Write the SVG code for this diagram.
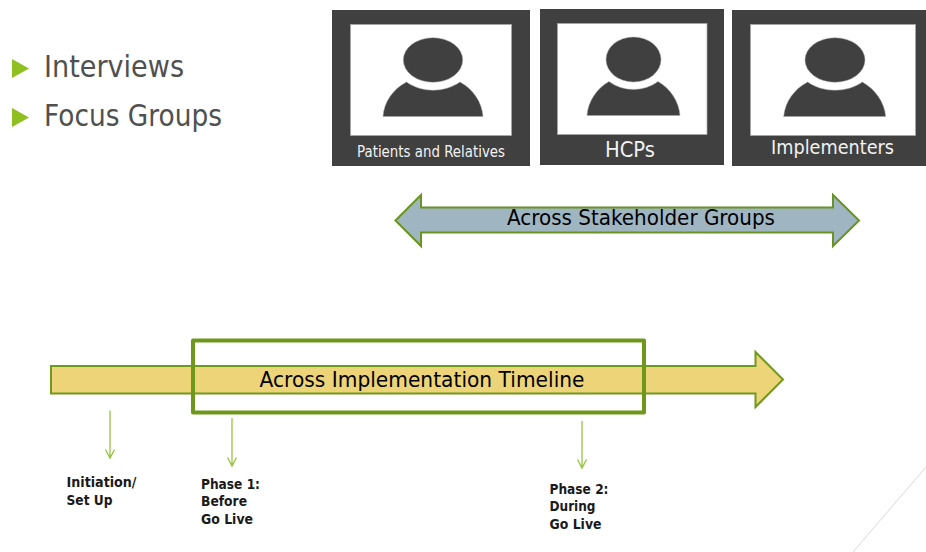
<svg xmlns="http://www.w3.org/2000/svg" width="926" height="552" viewBox="0 0 926 552">
<style>
text{font-family:"DejaVu Sans","Noto Sans",sans-serif}
.card{fill:#404040}
.photo{fill:#fff;stroke:#a6a6a6;stroke-width:.75}
.sil{fill:#404040;stroke:#a6a6a6;stroke-width:.5}
.cap{fill:#f2f2f2}
.bul{fill:#8fbf21}
.list{fill:#505050;font-size:30px}
.lab{fill:#000;font-size:22px}
.ph{fill:#1a1a1a;font-size:14.500px;font-weight:700}
.tick{fill:none;stroke:#98c440;stroke-width:1.3}
</style>
<rect width="926" height="552" fill="#fff"/>
<g id="decor"><path d="M926 467L853 552" fill="none" stroke="#d9d9d9" stroke-width="1"/></g>
<g id="bullets">
<path class="bul" d="M12 59L29 68.500L12 78Z"/>
<path class="bul" d="M12 108L29 117.500L12 127Z"/>
<text class="list" x="44" y="77" textLength="140" lengthAdjust="spacingAndGlyphs">Interviews</text>
<text class="list" x="44" y="126" textLength="178" lengthAdjust="spacingAndGlyphs">Focus Groups</text>
</g>
<g id="card-patients">
<rect class="card" x="332" y="10" width="198" height="156"/>
<rect class="photo" x="350.500" y="24.500" width="161" height="111"/>
<ellipse class="sil" cx="433" cy="60" rx="29.700" ry="22.300"/>
<path class="sil" d="M383 116.500C384 102 393 89 406.500 82C422 93 444 93 460 82C473 89 482 102 483 116.500Z"/>
<text class="cap" x="431" y="157" font-size="15" text-anchor="middle" textLength="148" lengthAdjust="spacingAndGlyphs">Patients and Relatives</text>
</g>
<g id="card-hcps">
<rect class="card" x="540" y="9" width="184" height="156"/>
<rect class="photo" x="557.500" y="23.500" width="149.500" height="111"/>
<ellipse class="sil" cx="633.500" cy="59.500" rx="27.500" ry="22.500"/>
<path class="sil" d="M587 115.500C588 102 596 89 609 81.500C623 92 644 92 658 81.500C671 89 679 102 680 115.500Z"/>
<text class="cap" x="630" y="157" font-size="21" text-anchor="middle" textLength="50" lengthAdjust="spacingAndGlyphs">HCPs</text>
</g>
<g id="card-implementers">
<rect class="card" x="732" y="10" width="194" height="156"/>
<rect class="photo" x="750.500" y="24.500" width="165" height="111"/>
<ellipse class="sil" cx="835" cy="60" rx="30" ry="22.300"/>
<path class="sil" d="M783.700 116.500C785 102 794 89 807.700 82C823 93 847 93 862.300 82C875 89 884.500 102 885.700 116.500Z"/>
<text class="cap" x="832.500" y="154" font-size="19.500" text-anchor="middle" textLength="123" lengthAdjust="spacingAndGlyphs">Implementers</text>
</g>
<g id="stakeholder-arrow">
<path d="M395.500 220.500L421 195V207.500H833V195L859 220.500L833 246V232.500H421V246Z" fill="#9fb5c2" stroke="#6b9322" stroke-width="2"/>
<text class="lab" x="641" y="225" text-anchor="middle" textLength="268" lengthAdjust="spacingAndGlyphs">Across Stakeholder Groups</text>
</g>
<g id="timeline-arrow">
<path d="M51 366H755.500V352L783 379.500L755.500 407V393.500H51Z" fill="#eed478" stroke="#6f9a1e" stroke-width="2"/>
<text class="lab" x="422" y="387" text-anchor="middle" textLength="325" lengthAdjust="spacingAndGlyphs">Across Implementation Timeline</text>
</g>
<g id="timeline-window"><rect x="193" y="340.500" width="451" height="72" fill="none" stroke="#6f971c" stroke-width="4" stroke-linejoin="round"/></g>
<g id="connectors">
<path class="tick" d="M110 410.500V458M105.500 449.500L110 458L114.500 449.500"/>
<path class="tick" d="M232 418V466M227.500 457.500L232 466L236.500 457.500"/>
<path class="tick" d="M582 421V468M577.500 459.500L582 468L586.500 459.500"/>
</g>
<g id="label-initiation"><text class="ph" x="66.500" y="487" textLength="70" lengthAdjust="spacingAndGlyphs">Initiation/</text><text class="ph" x="66.500" y="504.500" textLength="46" lengthAdjust="spacingAndGlyphs">Set Up</text></g>
<g id="label-phase1"><text class="ph" x="201" y="489" textLength="59" lengthAdjust="spacingAndGlyphs">Phase 1:</text><text class="ph" x="201" y="506" textLength="46" lengthAdjust="spacingAndGlyphs">Before</text><text class="ph" x="201" y="524" textLength="52" lengthAdjust="spacingAndGlyphs">Go Live</text></g>
<g id="label-phase2"><text class="ph" x="549.500" y="494" textLength="59" lengthAdjust="spacingAndGlyphs">Phase 2:</text><text class="ph" x="549.500" y="511" textLength="46" lengthAdjust="spacingAndGlyphs">During</text><text class="ph" x="549.500" y="529" textLength="52" lengthAdjust="spacingAndGlyphs">Go Live</text></g>
</svg>
